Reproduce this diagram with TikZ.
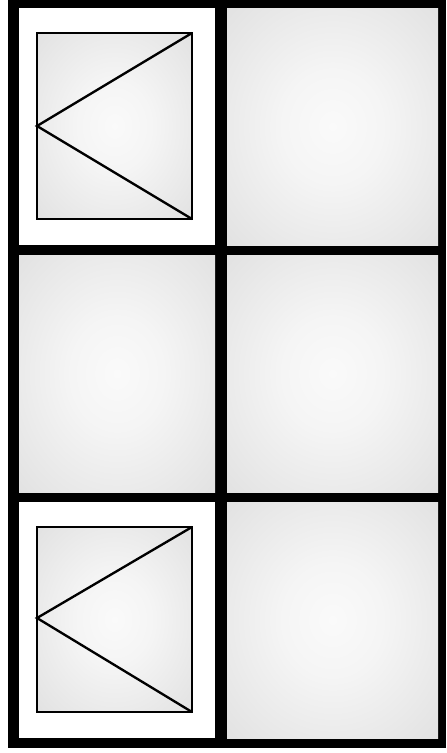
\documentclass[tikz,border=0pt]{standalone}
\pgfdeclareradialshading{softglass}{\pgfpoint{0bp}{0bp}}{%
  color(0bp)=(white!98!black); color(12bp)=(white!96!black);
  color(50bp)=(white!84!black); color(70bp)=(white!80!black)}
\tikzset{
  pane/.style={shading=softglass},
  sash/.style={fill=white},
  glass/.style={draw=black, line width=1.9pt, shading=softglass},
  opening/.style={line width=2pt, line join=miter}
}
\begin{document}
\begin{tikzpicture}[x=0.03cm, y=-0.03cm]
  \useasboundingbox (0,0) rectangle (446,753);
  % Frame
  \fill[black] (8,0) rectangle (446,748);
  % Top row
  \fill[sash] (19,8) rectangle (215,245);
  \shade[pane] (227,8) rectangle (438,245);
  % Middle row
  \shade[pane] (19,255) rectangle (215,492);
  \shade[pane] (227,255) rectangle (438,492);
  % Bottom row
  \fill[sash] (19,502) rectangle (215,738);
  \shade[pane] (227,502) rectangle (438,738);
  % Top-left casement
  \draw[glass] (37,33) rectangle (192,219);
  \draw[opening] (192,33) -- (37,126) -- (192,219);
  % Bottom-left casement
  \draw[glass] (37,527) rectangle (192,712);
  \draw[opening] (192,527) -- (37,618) -- (192,712);
\end{tikzpicture}
\end{document}
